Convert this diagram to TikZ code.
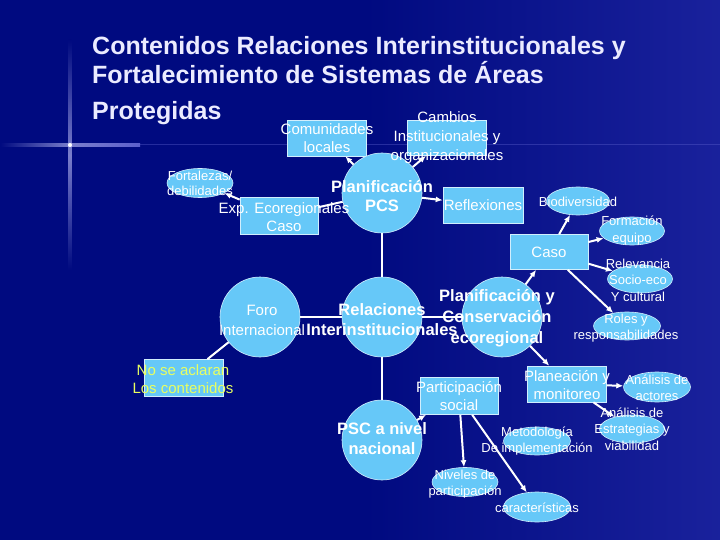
\documentclass[tikz,border=0pt]{standalone}
\usepackage{fontspec}
\setmainfont{Liberation Sans}
\usetikzlibrary{shapes.geometric,arrows.meta}
\definecolor{bg}{HTML}{000A80}
\definecolor{lb}{HTML}{66C8F8}
\definecolor{lime}{HTML}{E8FF60}
\tikzset{
 boxs/.style={draw=white!70!lb,fill=lb,line width=0.6pt,inner sep=0pt},
 rbox/.style={boxs,rectangle,minimum width=#1,minimum height=36pt},
 ell/.style={boxs,ellipse,minimum width=66pt,minimum height=29pt},
 circ/.style={boxs,circle,minimum size=80pt},
 txt/.style={text=white,font=\fontsize{15}{18}\selectfont,align=center,inner sep=0pt},
 btxt/.style={text=white,font=\bfseries\fontsize{16.5}{19}\selectfont,align=center,inner sep=0pt},
 ttl/.style={anchor=base west,text=white!92!blue,font=\bfseries\fontsize{25}{28}\selectfont,inner sep=0pt},
 con/.style={white,line width=2pt},
 arr/.style={con,-{Latex[length=7pt,width=6pt]}}
}
\begin{document}
\begin{tikzpicture}[x=1pt,y=-1pt]
\useasboundingbox (0,0) rectangle (720,540);
\fill[bg] (0,0) rectangle (720,540);
\shade[left color=bg,right color=bg!70!blue!80!white,opacity=0.5] (360,0) rectangle (720,540);
% sparkle
\shade[left color=bg,right color=white!60!blue,middle color=white!80!blue,opacity=0.6] (0,143.5) rectangle (140,146.5);
\shade[top color=bg,bottom color=bg,middle color=white!80!blue,opacity=0.6] (68.5,40) rectangle (71.5,270);
\fill[white!60!blue!60!bg,opacity=0.4] (140,144) rectangle (720,145.5);
\fill[white] (70,145) circle (2pt);
% title
\node[ttl] (t1) at (92,55) {Contenidos Relaciones Interinstitucionales y};
\node[ttl] (t2) at (92,84) {Fortalecimiento de Sistemas de Áreas};
\node[ttl] (t3) at (92,120) {Protegidas};
% shapes
\node[rbox=79pt] (com) at (327,138) {};
\node[rbox=79pt,minimum height=35pt] (cam) at (447,138) {};
\node[ell] (fort) at (200,183) {};
\node[rbox=78pt,minimum height=37pt] (eco) at (279,216) {};
\node[circ] (pcs) at (382,193) {};
\node[rbox=80pt] (ref) at (483,205) {};
\node[circ] (foro) at (260,317) {};
\node[circ] (rel) at (382,317) {};
\node[circ] (pyc) at (502,317) {};
\node[rbox=78pt,minimum height=35pt] (caso) at (549,252) {};
\node[ell,minimum width=63pt,minimum height=28pt] (bio) at (578,201) {};
\node[ell,minimum width=65pt,minimum height=28pt] (form) at (632,231) {};
\node[ell,minimum width=65pt,minimum height=28pt] (relv) at (640,279) {};
\node[ell,minimum width=67pt,minimum height=28pt] (rol) at (627,326) {};
\node[rbox=79pt] (pla) at (567,384) {};
\node[ell,minimum width=67pt,minimum height=30pt] (aa) at (657,387) {};
\node[ell,minimum width=65pt,minimum height=28pt] (ae) at (632,429) {};
\node[ell,minimum width=67pt,minimum height=28pt] (met) at (537,441) {};
\node[rbox=78pt,minimum height=37pt] (par) at (459,396) {};
\node[circ] (psc) at (382,440) {};
\node[ell,minimum width=66pt,minimum height=29pt] (niv) at (465,482) {};
\node[ell,minimum width=67pt,minimum height=30pt] (car) at (537,507) {};
\node[rbox=79pt,minimum height=37pt] (nose) at (184,378) {};
% connectors
\draw[con] (pcs) -- (rel);
\draw[con] (foro) -- (rel);
\draw[con] (rel) -- (pyc);
\draw[con] (rel) -- (psc);
\draw[con] (foro) -- (nose);
\draw[arr] (pcs) -- (com);
\draw[arr] (pcs) -- (cam);
\draw[con] (pcs) -- (eco);
\draw[arr] (eco) -- (fort);
\draw[arr] (pcs) -- (ref);
\draw[arr] (pyc) -- (caso);
\draw[arr] (caso) -- (bio);
\draw[arr] (caso) -- (form);
\draw[arr] (caso) -- (relv);
\draw[arr] (caso) -- (rol);
\draw[arr] (pyc) -- (pla);
\draw[arr] (pla) -- (aa);
\draw[arr] (pla) -- (ae);
\draw[arr] (psc) -- (par);
\draw[arr] (par) -- (niv);
\draw[arr] (par) -- (car);
% texts
\node[txt] (com-t) at (327,138) {Comunidades\\locales};
\node[txt,font=\fontsize{15}{19}\selectfont] (cam-t) at (447,138) {Cambios\\Institucionales y\\organizacionales};
\node[txt,font=\fontsize{13}{15}\selectfont] (fort-t) at (200,183) {Fortalezas/\\debilidades};
\node[txt] (eco-t) at (284,217) {Exp. Ecoregionales\\Caso};
\node[btxt] (pcs-t) at (382,196) {Planificación\\PCS};
\node[txt] (ref-t) at (483,205) {Reflexiones};
\node[txt,font=\fontsize{15}{20}\selectfont] (foro-t) at (262,320) {Foro\\Internacional};
\node[btxt,font=\bfseries\fontsize{16.5}{20}\selectfont] (rel-t) at (382,320) {Relaciones\\Interinstitucionales};
\node[btxt,font=\bfseries\fontsize{16.5}{21}\selectfont] (pyc-t) at (497,318) {Planificación y\\Conservación\\ecoregional};
\node[txt] (caso-t) at (549,252) {Caso};
\node[txt,font=\fontsize{13}{16}\selectfont] (bio-t) at (578,202) {Biodiversidad};
\node[txt,font=\fontsize{13}{17}\selectfont] (form-t) at (632,231) {Formación\\equipo};
\node[txt,font=\fontsize{13}{16.5}\selectfont] (relv-t) at (638,280) {Relevancia\\Socio-eco\\Y cultural};
\node[txt,font=\fontsize{13}{16.5}\selectfont] (rol-t) at (626,328) {Roles y\\responsabilidades};
\node[txt] (pla-t) at (567,385) {Planeación y\\monitoreo};
\node[txt,font=\fontsize{13}{16.5}\selectfont] (aa-t) at (657,388) {Análisis de\\actores};
\node[txt,font=\fontsize{13}{16.5}\selectfont] (ae-t) at (632,429) {Análisis de\\Estrategias y\\viabilidad};
\node[txt,font=\fontsize{13}{16.5}\selectfont] (met-t) at (537,441) {Metodología\\De implementación};
\node[txt] (par-t) at (459,396) {Participación\\social};
\node[btxt,font=\bfseries\fontsize{16.5}{20}\selectfont] (psc-t) at (382,439) {PSC a nivel\\nacional};
\node[txt,font=\fontsize{13}{16.5}\selectfont] (niv-t) at (465,484) {Niveles de\\participación};
\node[txt,font=\fontsize{13}{16}\selectfont] (car-t) at (537,508) {características};
\node[txt,text=lime] (nose-t) at (183,379) {No se aclaran\\Los contenidos};
\end{tikzpicture}
\end{document}
